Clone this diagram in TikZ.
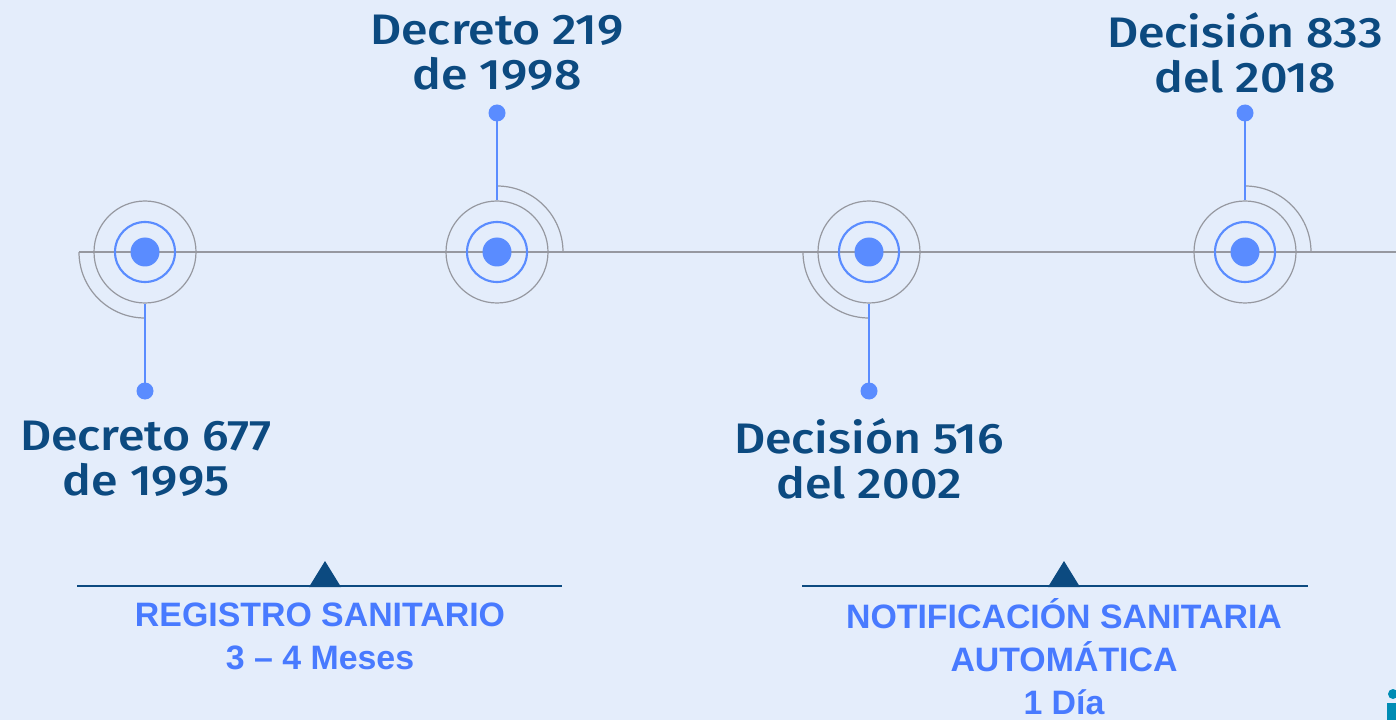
\documentclass[tikz,border=0pt]{standalone}
\usepackage{fontspec}
\setmainfont{Liberation Sans}
\newfontfamily\titlefont{Fira Sans Medium}[FakeStretch=1.13]
\usetikzlibrary{positioning}

\definecolor{bgblue}{RGB}{228,237,251}
\definecolor{dotblue}{RGB}{90,140,255}
\definecolor{navy}{RGB}{12,74,128}
\definecolor{ringgray}{RGB}{150,152,160}
\definecolor{capblue}{RGB}{72,122,255}
\definecolor{iconteal}{RGB}{0,140,180}

\tikzset{every picture/.style={line width=0.75pt}}
\tikzset{
  outerring/.style={circle,draw=ringgray,line width=0.9pt,inner sep=0pt,minimum size=76.5pt},
  bluering/.style={circle,draw=dotblue,line width=1.6pt,inner sep=0pt,minimum size=45pt},
  core/.style={circle,fill=dotblue,inner sep=0pt,minimum size=21.75pt},
  tipdot/.style={circle,fill=dotblue,inner sep=0pt,minimum size=12.75pt},
  stem/.style={draw=dotblue,line width=1.4pt},
  halo/.style={draw=ringgray,line width=0.9pt},
  datetext/.style={text=navy,align=center,font=\titlefont\fontsize{32}{34}\selectfont,inner sep=0.75pt},
  phasetext/.style={text=capblue,align=center,font=\bfseries\fontsize{25.4}{32.2}\selectfont,inner sep=0.75pt},
  phaseline/.style={draw=navy,line width=1.6pt}
}

\begin{document}
\begin{tikzpicture}[x=0.75pt,y=0.75pt,yscale=-1,xscale=1]
\fill[bgblue] (0,0) rectangle (1396,720);
\useasboundingbox (0,0) rectangle (1396,720);
\clip (0,0) rectangle (1396,720);

%Timeline axis
\coordinate (axisstart) at (79,252);
\coordinate (axisend) at (1396,252);
\draw[ringgray,line width=0.9pt] (axisstart) -- (axisend);

%Event 1: Decreto 677
\node[outerring] (r1) at (145,252) {};
\node[bluering] at (r1) {};
\node[core] (c1) at (r1) {};
\draw[halo] (79,252) arc[start angle=180,end angle=90,radius=66];
\node[tipdot] (p1) at (145,391) {};
\draw[stem] (r1.south) -- (p1.center);
\draw (146,459) node [datetext] (t1) {Decreto 677\\de 1995};

%Event 2: Decreto 219
\node[outerring] (r2) at (497,252) {};
\node[bluering] at (r2) {};
\node[core] (c2) at (r2) {};
\draw[halo] (563,252) arc[start angle=0,end angle=-90,radius=66];
\node[tipdot] (p2) at (497,113) {};
\draw[stem] (r2.north) -- (p2.center);
\draw (497,53) node [datetext] (t2) {Decreto 219\\de 1998};

%Event 3: Decisión 516
\node[outerring] (r3) at (869,252) {};
\node[bluering] at (r3) {};
\node[core] (c3) at (r3) {};
\draw[halo] (803,252) arc[start angle=180,end angle=90,radius=66];
\node[tipdot] (p3) at (869,391) {};
\draw[stem] (r3.south) -- (p3.center);
\draw (869,459) node [datetext] (t3) {Decisión 516\\del 2002};

%Event 4: Decisión 833
\node[outerring] (r4) at (1245,252) {};
\node[bluering] at (r4) {};
\node[core] (c4) at (r4) {};
\draw[halo] (1311,252) arc[start angle=0,end angle=-90,radius=66];
\node[tipdot] (p4) at (1245,113) {};
\draw[stem] (r4.north) -- (p4.center);
\draw (1245,53) node [datetext] (t4) {Decisión 833\\del 2018};

%Phase brackets
\coordinate (b1l) at (77,586);
\coordinate (b1r) at (562,586);
\draw[phaseline] (b1l) -- (b1r);
\fill[navy] (309,587) -- (325,561) -- (341,587) -- cycle;
\draw (320,636) node [phasetext] (ph1) {REGISTRO SANITARIO\\3 -- 4 Meses};

\coordinate (b2l) at (802,586);
\coordinate (b2r) at (1308,586);
\draw[phaseline] (b2l) -- (b2r);
\fill[navy] (1048,587) -- (1064,561) -- (1080,587) -- cycle;
\draw (1064,657) node [phasetext] (ph2) {NOTIFICACIÓN SANITARIA\\AUTOMÁTICA\\1 Día};

%cut icon in corner
\fill[iconteal] (1393,694) circle (5);
\fill[iconteal] (1387,703) rectangle (1398,722);

\end{tikzpicture}
\end{document}
